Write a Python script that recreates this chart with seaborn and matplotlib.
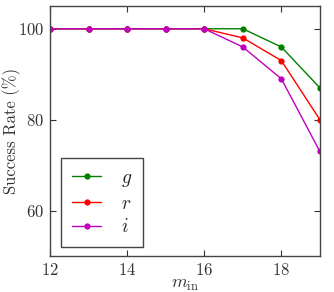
import matplotlib
matplotlib.use("Agg")
import matplotlib.pyplot as plt
import seaborn as sns
import pandas as pd

m_in = [12, 13, 14, 15, 16, 17, 18, 19]
g_rate = [100, 100, 100, 100, 100, 100, 96, 87]
r_rate = [100, 100, 100, 100, 100, 98, 93, 80]
i_rate = [100, 100, 100, 100, 100, 96, 89, 73]
bands = ["$g$", "$r$", "$i$"]
colors = ["#008000", "#ff0000", "#bf00bf"]

rows = []
for band, vals in zip(bands, [g_rate, r_rate, i_rate]):
    for m, v in zip(m_in, vals):
        rows.append({"m": m, "rate": v, "band": band})
df = pd.DataFrame(rows)

sns.set_style("ticks")
plt.rcParams["font.family"] = ["cmr10", "DejaVu Serif"]
plt.rcParams["mathtext.fontset"] = "cm"
plt.rcParams["axes.formatter.use_mathtext"] = True

fig = plt.figure(figsize=(3.34, 2.92), dpi=100)
ax = fig.add_axes([0.1497, 0.1233, 0.808, 0.856])

sns.lineplot(data=df, x="m", y="rate", hue="band", palette=colors,
             marker="o", markersize=4.5, markeredgewidth=0, linewidth=1.0,
             ax=ax, legend=True)

ax.set_xlim(12, 19)
ax.set_ylim(50, 105)
ax.set_xticks([12, 14, 16, 18])
ax.set_yticks([60, 80, 100])
ax.tick_params(direction="in", top=True, right=True, length=4, width=0.8,
               labelsize=12, colors="#333333", labelcolor="#333333", pad=4)
for s in ax.spines.values():
    s.set_color("#444444")
    s.set_linewidth(1.0)
ax.set_xlabel(r"$m_{\rm in}$", fontsize=13, color="#333333", labelpad=0)
ax.set_ylabel("Success Rate (%)", fontsize=12, color="#333333")
ax.yaxis.set_label_coords(-0.108, 0.5)

leg = ax.legend(loc="lower left", bbox_to_anchor=(0.028, 0.02), fontsize=14,
                frameon=True, fancybox=False, handlelength=1.5,
                handletextpad=1.0, borderpad=0.55, labelspacing=0.3,
                borderaxespad=0.2)
leg.get_frame().set_edgecolor("#444444")
leg.get_frame().set_linewidth(1.0)
leg.get_frame().set_alpha(1)

fig.savefig("out.png", dpi=100)
